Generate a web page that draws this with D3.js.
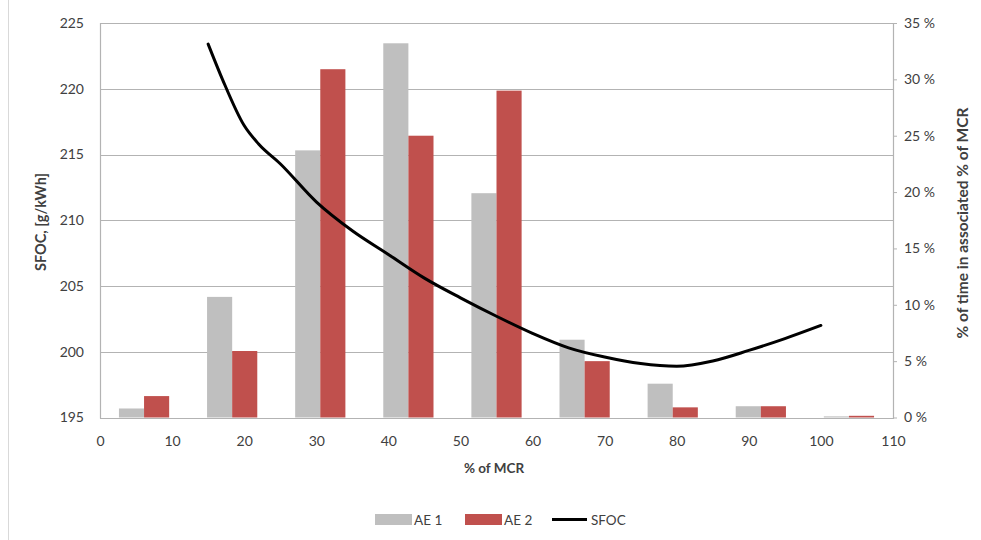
<!DOCTYPE html>
<html>
<head>
<meta charset="utf-8">
<script src="https://cdn.jsdelivr.net/npm/d3@7/dist/d3.min.js"></script>
<style>
  html, body { margin: 0; padding: 0; background: #fff; }
  svg { display: block; }
  text { font-family: Lato, "Open Sans", sans-serif; fill: #404040; }
</style>
</head>
<body>
<script>
// ---- data ----
const categories = ["0–10", "10–20", "20–30", "30–40", "40–50", "50–60", "60–70", "70–80", "80–90"];
const ae1 = [0.8, 10.7, 23.7, 33.2, 19.9, 6.9, 3.0, 1.0, 0.1];
const ae2 = [1.9, 5.9, 30.9, 25.0, 29.0, 5.0, 0.9, 1.0, 0.15];
const sfocX = [15, 17, 20, 22, 25, 30, 35, 40, 45, 50, 55, 60, 65, 70, 75, 80, 85, 90, 95, 100];
const sfocY = [223.4, 220.7, 217.2, 215.8, 214.3, 211.4, 209.2, 207.4, 205.6, 204.1, 202.7, 201.4, 200.3, 199.6, 199.1, 198.9, 199.3, 200.1, 201.0, 202.0];
const xTicks = [0, 10, 20, 30, 40, 50, 60, 70, 80, 90, 100, 110];
const leftTicks = [195, 200, 205, 210, 215, 220, 225];
const rightTicks = [0, 5, 10, 15, 20, 25, 30, 35];
const seriesNames = ["AE 1", "AE 2", "SFOC"];

// ---- layout ----
const W = 981, H = 540;
const L = 100, R = 893, T = 23, B = 417.5;
const gray = "#bfbfbf", red = "#c0504d", gridC = "#b3b3b3";

const svg = d3.select("body").append("svg").attr("width", W).attr("height", H);

// frame line at left
svg.append("line").attr("x1", 8.5).attr("x2", 8.5).attr("y1", 0).attr("y2", H)
  .attr("stroke", "#d9d9d9").attr("stroke-width", 1);

const xBand = d3.scaleBand().domain(categories).range([L, R]).paddingInner(0.43).paddingOuter(0.215);
const xSub = d3.scaleBand().domain([0, 1]).range([0, xBand.bandwidth()]);
const xVal = d3.scaleLinear().domain([0, 110]).range([L, R]);
const yL = d3.scaleLinear().domain([195, 225]).range([B, T]);
const yR = d3.scaleLinear().domain([0, 35]).range([B, T]);

// gridlines
svg.append("g").selectAll("line").data(leftTicks).join("line")
  .attr("x1", L).attr("x2", R)
  .attr("y1", d => Math.round(yL(d)) + 0.5).attr("y2", d => Math.round(yL(d)) + 0.5)
  .attr("stroke", gridC).attr("stroke-width", 1.2);

// bars
const bars = svg.append("g");
[ae1, ae2].forEach((arr, si) => {
  bars.selectAll(null).data(arr).join("rect")
    .attr("x", (d, i) => xBand(categories[i]) + xSub(si))
    .attr("width", xSub.bandwidth())
    .attr("y", d => yR(d))
    .attr("height", d => B - yR(d))
    .attr("fill", si === 0 ? gray : red);
});

// axes lines
svg.append("line").attr("x1", L + 0.5).attr("x2", L + 0.5).attr("y1", T).attr("y2", B + 1).attr("stroke", gridC).attr("stroke-width", 1.2);
svg.append("line").attr("x1", R + 0.5).attr("x2", R + 0.5).attr("y1", T).attr("y2", B + 1).attr("stroke", gridC).attr("stroke-width", 1.2);
svg.append("line").attr("x1", L).attr("x2", R + 1).attr("y1", Math.round(B) + 0.5).attr("y2", Math.round(B) + 0.5).attr("stroke", gridC).attr("stroke-width", 1.2);

// left axis
const gL = svg.append("g").attr("transform", `translate(${L},0)`)
  .call(d3.axisLeft(yL).tickValues(leftTicks).tickSize(0).tickPadding(16));
gL.select(".domain").remove();
gL.selectAll("text").style("font-size", "14px").attr("fill", "#404040");

// right axis
const gR = svg.append("g").attr("transform", `translate(${R},0)`)
  .call(d3.axisRight(yR).tickValues(rightTicks).tickSize(4).tickPadding(7).tickFormat(d => d + " %"));
gR.select(".domain").remove();
gR.selectAll("line").attr("stroke", gridC);
gR.selectAll("text").style("font-size", "14px").attr("fill", "#404040");

// bottom axis
const gB = svg.append("g").attr("transform", `translate(0,${B})`)
  .call(d3.axisBottom(xVal).tickValues(xTicks).tickSize(0).tickPadding(19));
gB.select(".domain").remove();
gB.selectAll("text").style("font-size", "14px").attr("fill", "#404040");

// SFOC line
const line = d3.line().x((d, i) => xVal(sfocX[i])).y(d => yL(d)).curve(d3.curveMonotoneX);
svg.append("path").datum(sfocY).attr("d", line)
  .attr("fill", "none").attr("stroke", "#000").attr("stroke-width", 3)
  .attr("stroke-linecap", "round").attr("stroke-linejoin", "round");

// axis titles
svg.append("text").attr("transform", "translate(46,222) rotate(-90)")
  .attr("text-anchor", "middle").style("font-size", "14.5px").style("font-weight", "bold")
  .text("SFOC, [g/kWh]");
svg.append("text").attr("transform", "translate(968,223) rotate(-90)")
  .attr("text-anchor", "middle").style("font-size", "15.5px").style("font-weight", "bold")
  .text("% of time in associated % of MCR");
svg.append("text").attr("x", 494).attr("y", 473)
  .attr("text-anchor", "middle").style("font-size", "13.5px").style("font-weight", "bold")
  .text("% of MCR");

// legend
const lg = svg.append("g");
const legendItems = [
  { name: seriesNames[0], type: "rect", color: gray, x: 375 },
  { name: seriesNames[1], type: "rect", color: red, x: 465 },
  { name: seriesNames[2], type: "line", color: "#000", x: 552 }
];
legendItems.forEach(it => {
  if (it.type === "rect") {
    lg.append("rect").attr("x", it.x).attr("y", 514).attr("width", 37).attr("height", 11).attr("fill", it.color);
  } else {
    lg.append("line").attr("x1", it.x).attr("x2", it.x + 35).attr("y1", 519.5).attr("y2", 519.5)
      .attr("stroke", it.color).attr("stroke-width", 3);
  }
  lg.append("text").attr("x", it.x + 39).attr("y", 524.5).style("font-size", "13.5px").text(it.name);
});
</script>
</body>
</html>
